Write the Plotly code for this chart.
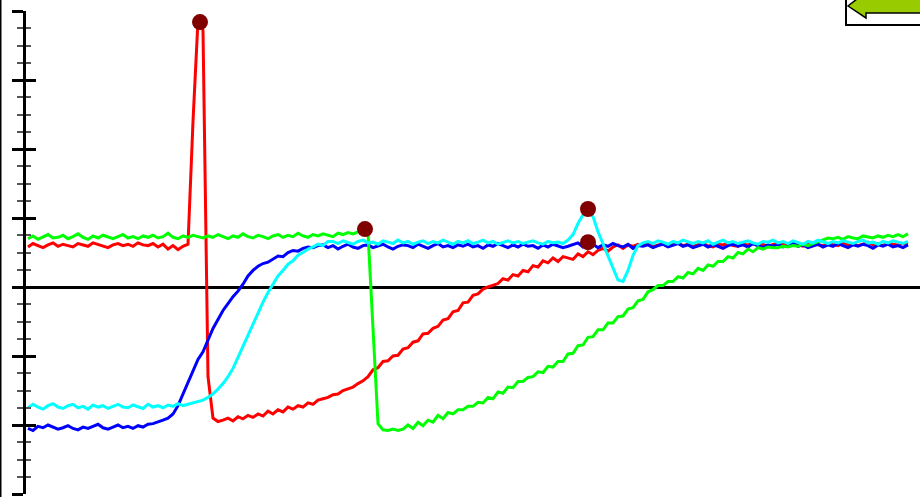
import plotly.graph_objects as go

# ---------------- data (values in major-tick units) ----------------
red = [0.58,0.63,0.60,0.57,0.61,0.64,0.59,0.62,0.60,0.58,
       0.63,0.61,0.59,0.64,0.62,0.60,0.57,0.61,0.63,0.60,
       0.62,0.59,0.64,0.61,0.60,0.63,0.58,0.62,0.55,0.60,
       0.54,0.59,0.62,
       2.40,3.87,3.72,-1.30,-1.90,
       -1.95,-1.93,-1.90,-1.94,-1.88,-1.91,-1.86,-1.89,-1.84,-1.87,
       -1.80,-1.84,-1.78,-1.81,-1.74,-1.77,-1.72,-1.74,-1.68,-1.70,
       -1.64,-1.62,-1.60,-1.56,-1.55,-1.50,-1.48,-1.45,-1.40,-1.36,
       -1.30,-1.20,-1.17,-1.08,-1.07,-1.00,-0.99,-0.90,-0.88,-0.80,
       -0.78,-0.68,-0.67,-0.60,-0.57,-0.48,-0.46,-0.36,-0.34,-0.23,
       -0.22,-0.12,-0.10,-0.03,0.00,0.03,0.05,0.12,0.10,0.18,
       0.16,0.24,0.22,0.31,0.29,0.38,0.35,0.42,0.37,0.44,
       0.42,0.40,0.48,0.44,0.51,0.47,0.53,0.56,0.52,0.58,
       0.61,0.56,
       0.61,0.59,0.62,0.60,0.63,0.58,0.61,0.62,0.59,0.61,
       0.64,0.60,0.62,0.59,0.61,0.63,0.60,0.58,0.62,0.61,
       0.64,0.60,0.59,0.62,0.61,0.63,0.60,0.62,0.59,0.61,
       0.64,0.62,0.60,0.63,0.61,0.59,0.62,0.64,0.61,0.60,
       0.63,0.62,0.60,0.64,0.61,0.63,0.60,0.62,0.65,0.61,
       0.63,0.60,0.64,0.62,0.61,0.63,0.62]

blue = [-2.05,-2.08,-2.02,-2.04,-2.00,-2.03,-2.06,-2.04,-2.01,-2.05,
        -2.07,-2.03,-2.05,-2.02,-1.99,-2.04,-2.06,-2.03,-2.00,-2.04,
        -2.02,-2.05,-2.01,-2.03,-1.99,
        -1.98,-1.96,-1.93,-1.90,-1.84,-1.72,-1.55,-1.38,-1.22,-1.05,
        -0.94,-0.78,-0.60,-0.47,-0.34,-0.24,-0.14,-0.06,0.04,0.16,
        0.24,0.30,0.34,0.36,0.40,0.45,0.44,0.50,0.53,0.52,
        0.56,0.58,0.57,0.60,
        0.61,0.57,0.60,0.55,0.59,0.62,0.58,0.56,0.60,0.61,
        0.57,0.60,0.62,0.58,0.55,0.59,0.61,0.60,0.57,0.62,
        0.59,0.56,0.60,0.63,0.58,0.60,0.57,0.61,0.59,0.62,
        0.58,0.60,0.56,0.61,0.59,0.63,0.60,0.57,0.61,0.58,
        0.62,0.59,0.60,0.56,0.61,0.58,0.62,0.60,0.57,0.59,
        0.61,0.64,0.58,0.60,0.62,0.57,0.61,0.59,0.63,0.60,
        0.58,0.62,0.56,0.60,0.59,0.61,0.57,0.60,0.62,0.58,
        0.60,0.63,0.59,0.61,0.57,0.60,0.62,0.58,0.61,0.59,
        0.56,0.60,0.62,0.59,0.61,0.58,0.63,0.60,0.57,0.61,
        0.59,0.62,0.58,0.60,0.64,0.59,0.61,0.57,0.60,0.62,
        0.58,0.61,0.59,0.63,0.60,0.57,0.61,0.59,0.62,0.60,
        0.56,0.61,0.59,0.62,0.58,0.60,0.57,0.61]

cyan = [-1.75,-1.70,-1.74,-1.77,-1.72,-1.69,-1.74,-1.76,-1.72,-1.70,
        -1.75,-1.73,-1.77,-1.71,-1.74,-1.72,-1.76,-1.73,-1.70,-1.74,
        -1.75,-1.71,-1.73,-1.76,-1.70,-1.74,-1.72,-1.75,-1.71,-1.73,
        -1.69,-1.72,-1.70,-1.68,-1.66,
        -1.64,-1.60,-1.55,-1.48,-1.40,-1.30,-1.18,-1.02,-0.86,-0.70,
        -0.52,-0.36,-0.22,-0.08,0.04,0.16,0.24,0.33,0.38,0.46,
        0.50,0.55,0.58,0.62,0.60,0.66,
        0.66,0.63,0.67,0.64,0.62,0.66,0.68,0.64,0.65,0.62,
        0.67,0.65,0.63,0.68,0.64,0.66,0.62,0.65,0.67,0.63,
        0.66,0.64,0.68,0.65,0.62,0.66,0.64,0.67,0.63,0.65,
        0.68,0.64,0.66,0.62,0.65,0.67,0.64,0.66,0.63,0.65,
        0.67,0.64,0.62,0.66,0.64,0.65,0.63,
        0.68,0.76,0.92,1.05,1.13,1.02,0.80,0.62,0.46,0.28,
        0.10,0.08,0.24,0.46,0.60,0.64,
        0.66,0.63,0.67,0.65,0.62,0.66,0.64,0.68,0.65,0.63,
        0.66,0.64,0.67,0.62,0.65,0.68,0.64,0.66,0.63,0.65,
        0.67,0.64,0.62,0.66,0.65,0.68,0.64,0.66,0.63,0.67,
        0.65,0.62,0.66,0.64,0.68,0.65,0.63,0.66,0.64,0.67,
        0.65,0.63,0.66,0.68,0.64,0.65,0.62,0.66,0.64,0.67,
        0.65,0.63,0.66]

green = [0.70,0.74,0.69,0.73,0.76,0.71,0.72,0.75,0.70,0.73,
         0.77,0.72,0.69,0.74,0.71,0.75,0.72,0.70,0.73,0.76,
         0.71,0.73,0.70,0.74,0.72,0.75,0.71,0.73,0.78,0.72,
         0.70,0.74,0.72,0.75,0.73,0.71,0.74,0.72,0.76,0.73,
         0.70,0.74,0.72,0.77,0.73,0.71,0.75,0.73,0.70,0.74,
         0.76,0.72,0.75,0.73,0.78,0.74,0.72,0.76,0.74,0.77,
         0.75,0.73,0.78,0.76,0.79,0.77,0.80,
         0.82,0.78,-0.60,-1.98,
         -2.07,-2.08,-2.06,-2.08,-2.06,-2.00,-2.05,-1.96,-2.01,-1.93,
         -1.96,-1.86,-1.91,-1.82,-1.84,-1.78,-1.78,-1.73,-1.73,-1.67,
         -1.68,-1.60,-1.62,-1.52,-1.54,-1.45,-1.46,-1.37,-1.37,-1.31,
         -1.30,-1.23,-1.24,-1.15,-1.16,-1.08,-1.08,-0.97,-0.96,-0.85,
         -0.84,-0.73,-0.72,-0.62,-0.62,-0.52,-0.52,-0.43,-0.42,-0.32,
         -0.30,-0.20,-0.18,-0.07,-0.04,0.02,0.02,0.08,0.08,0.15,
         0.13,0.21,0.19,0.27,0.24,0.32,0.30,0.37,0.37,0.44,
         0.42,0.50,0.48,0.55,0.51,0.57,0.55,0.58,0.57,
         0.57,0.59,0.58,0.60,0.59,0.62,0.60,0.63,0.66,0.69,
         0.71,0.70,0.72,0.69,0.73,0.71,0.70,0.74,0.72,0.71,
         0.74,0.72,0.75,0.73,0.76,0.73,0.77]

marker_x = [34.4, 67.4, 112.0, 112.0]
marker_y = [3.84, 0.84, 1.13, 0.65]

# ---------------- figure ----------------
W, H = 920, 497
MT, MB = 11, 3

fig = go.Figure()
for series, color in [(red, "#ff0000"), (blue, "#0000ff"),
                      (green, "#00ff00"), (cyan, "#00ffff")]:
    fig.add_trace(go.Scatter(x=list(range(len(series))), y=series, mode="lines",
                             line=dict(color=color, width=3), hoverinfo="skip"))

fig.add_trace(go.Scatter(x=marker_x, y=marker_y, mode="markers", yaxis="y2",
                         marker=dict(color="#800000", size=16), hoverinfo="skip"))

yr = [-3, 4]
common = dict(range=yr, showgrid=False, showticklabels=False, dtick=1, tick0=0,
              tickcolor="black", tickwidth=3)
fig.update_layout(
    width=W, height=H,
    margin=dict(l=0, r=0, t=MT, b=MB, pad=0),
    paper_bgcolor="white", plot_bgcolor="white",
    showlegend=False,
    xaxis=dict(domain=[26 / W, 1], range=[-0.4, 178.4], visible=False),
    yaxis=dict(**common, anchor="x", showline=True, linecolor="black", linewidth=3,
               ticks="outside", ticklen=11,
               zeroline=True, zerolinecolor="black", zerolinewidth=3,
               minor=dict(dtick=0.25, tick0=0, ticks="outside", ticklen=6,
                          tickwidth=2, tickcolor="#555555", showgrid=False)),
    yaxis2=dict(**common, overlaying="y", anchor="x", side="left", showline=False,
                ticks="inside", ticklen=10, zeroline=False,
                minor=dict(dtick=0.25, tick0=0, ticks="inside", ticklen=5,
                           tickwidth=2, tickcolor="#555555", showgrid=False)),
)

ph = H - MT - MB
def px(x):
    return x / W
def py(y):
    return (H - MB - y) / ph

# left border
fig.add_shape(type="line", xref="paper", yref="paper", x0=px(0.5), x1=px(0.5),
              y0=py(500), y1=py(-5), line=dict(color="black", width=2))
# navigation button box with arrow (top right, partly cut off)
fig.add_shape(type="rect", xref="paper", yref="paper", x0=px(846), x1=px(930),
              y0=py(25), y1=py(-10), line=dict(color="black", width=2), fillcolor="white")
pts = [(848, 6), (866, 18), (866, 13), (935, 13), (935, -8), (866, -8)]
path = "M " + " L ".join(f"{px(a):.5f},{py(b):.5f}" for a, b in pts) + " Z"
fig.add_shape(type="path", xref="paper", yref="paper", path=path,
              fillcolor="#99cc00", line=dict(color="black", width=1.5))

fig.write_html("out.html", config={"displayModeBar": False},
               post_script="document.body.style.margin='0';document.body.style.overflow='hidden';")
